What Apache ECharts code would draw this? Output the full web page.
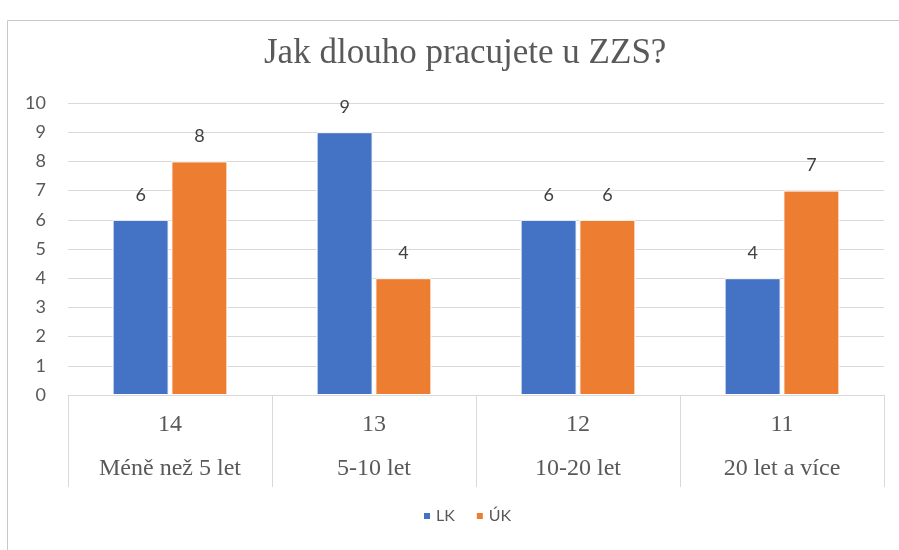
<!DOCTYPE html>
<html lang="cs">
<head>
    <meta charset="UTF-8">
    <title>Jak dlouho pracujete u ZZS?</title>
    <script src="https://cdn.jsdelivr.net/npm/echarts@6/dist/echarts.min.js"></script>
    <style>
        html, body { margin: 0; padding: 0; background: #fff; }
    </style>
</head>
<body>
    <div id="main" style="width: 899px;height: 550px"></div>
    <script>
        // kategorie a pocty respondentu (prvni radek popisku osy x)
        var categories = ['Méně než 5 let', '5-10 let', '10-20 let', '20 let a více'];
        var counts = [14, 13, 12, 11];
        var lk = [6, 9, 6, 4];
        var uk = [8, 4, 6, 7];
        var yTicks = [0, 10, 1]; // min, max, interval

        var serif = '"Liberation Serif", "DejaVu Serif", serif';
        var sans = 'Lato, "Open Sans", sans-serif';

        var mCharts = echarts.init(document.getElementById('main'));

        function barSeries(name, data, color) {
            return {
                name: name,
                type: 'bar',
                data: data,
                barWidth: 56,
                barGap: '5%',
                itemStyle: { color: color, borderColor: '#fff', borderWidth: 1 },
                label: {
                    show: true,
                    position: 'top',
                    distance: 16,
                    color: '#404040',
                    fontFamily: sans,
                    fontSize: 18
                }
            };
        }

        var option = {
            backgroundColor: '#fff',
            animation: false,
            graphic: [{
                type: 'rect',
                shape: { x: 7.5, y: 20.5, width: 1000, height: 1000 },
                style: { fill: 'none', stroke: '#c8c8c8', lineWidth: 1 },
                silent: true
            }],
            title: {
                text: 'Jak dlouho pracujete u ZZS?',
                left: 259,
                top: 31,
                textStyle: { fontFamily: serif, fontWeight: 'normal', fontSize: 35, color: '#595959' }
            },
            legend: {
                bottom: 21,
                left: 417,
                icon: 'rect',
                itemWidth: 8,
                itemHeight: 8,
                itemGap: 20,
                textStyle: { fontFamily: sans, fontSize: 16, color: '#595959' }
            },
            grid: { left: 68, right: 15, top: 103, bottom: 155 },
            xAxis: {
                type: 'category',
                data: categories,
                axisLine: { lineStyle: { color: '#d9d9d9' } },
                axisTick: { show: true, interval: 0, length: 92, lineStyle: { color: '#d9d9d9' } },
                axisLabel: {
                    interval: 0,
                    margin: 8,
                    formatter: function (value, idx) {
                        return '{a|' + counts[idx] + '}\n{b|' + value + '}';
                    },
                    rich: {
                        a: { fontFamily: serif, fontSize: 24, color: '#595959', lineHeight: 44 },
                        b: { fontFamily: serif, fontSize: 24, color: '#595959', lineHeight: 44 }
                    }
                }
            },
            yAxis: {
                type: 'value',
                min: yTicks[0],
                max: yTicks[1],
                interval: yTicks[2],
                axisLabel: { fontFamily: sans, fontSize: 18, color: '#595959', margin: 22 },
                splitLine: { lineStyle: { color: '#d9d9d9' } }
            },
            series: [
                barSeries('LK', lk, '#4472C4'),
                barSeries('ÚK', uk, '#ED7D31')
            ]
        };
        mCharts.setOption(option);
    </script>
</body>
</html>
